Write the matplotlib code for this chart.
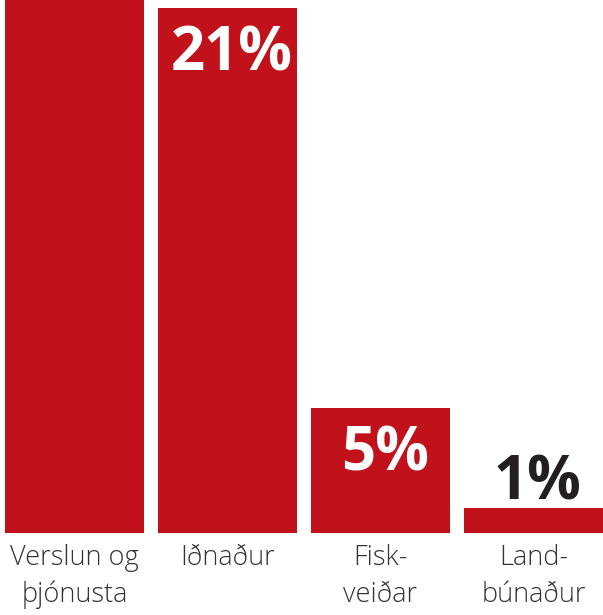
import matplotlib.pyplot as plt
import numpy as np

# sector shares of something (first bar runs off the top of the picture)
categories = ["Verslun og\nþjónusta", "Iðnaður", "Fisk-\nveiðar", "Land-\nbúnaður"]
values = [73, 21, 5, 1]
labels = ["73%", "21%", "5%", "1%"]

red = "#c1121c"

fig = plt.figure(figsize=(6.03, 6.15), dpi=100)
ax = fig.add_axes([0, 82 / 615, 1, 533 / 615])

x = np.arange(len(values))
w = 140 / 154
ax.bar(x, values, width=w, color=red)
ax.set_xlim(-w / 2 - 5 / 154, 3 + w / 2)
ax.set_ylim(0, 533 / 25)

# value labels: inside the bar when it is tall enough, above it otherwise
for xi, v, lab in zip(x, values, labels):
    if v >= 3:
        ax.annotate(lab, (xi, v), xytext=(3, -45), textcoords="offset points",
                    ha="center", va="baseline", color="white",
                    fontsize=43, fontweight="bold", family="Open Sans")
    else:
        ax.annotate(lab, (xi, v), xytext=(3, 6), textcoords="offset points",
                    ha="center", va="baseline", color="#231f20",
                    fontsize=43, fontweight="bold", family="Open Sans")

ax.set_xticks(x)
ax.set_xticklabels(categories, fontsize=19.5, color="#333333",
                   family="Open Sans", fontweight="light", linespacing=1.4)
ax.tick_params(axis="x", length=0, pad=8)
ax.set_yticks([])
for s in ax.spines.values():
    s.set_visible(False)

fig.savefig("out.png", dpi=100)
